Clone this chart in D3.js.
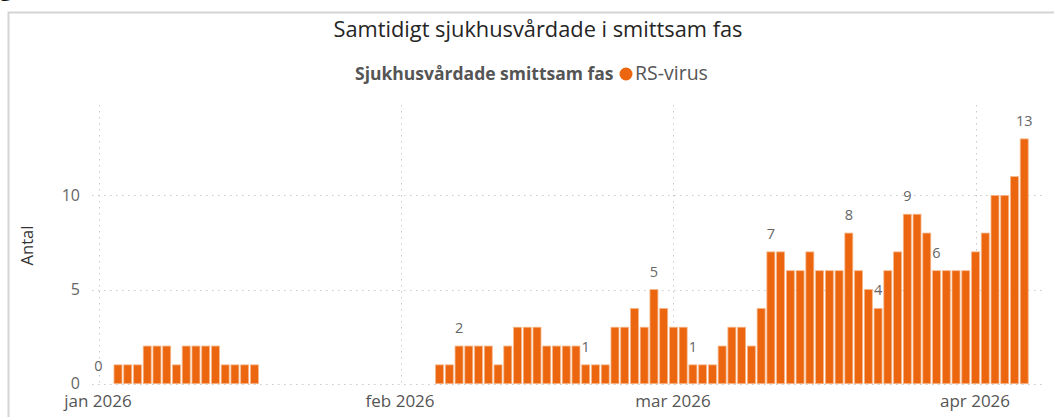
<!DOCTYPE html>
<html><head><meta charset="utf-8">
<script src="https://cdn.jsdelivr.net/npm/d3@7"></script>
<style>
body{margin:0;background:#fff;}
svg{display:block;font-family:"Open Sans",sans-serif;}
</style></head>
<body><svg id="c" width="1054" height="417"></svg>
<script>
const dates = [
"2026-01-01",
"2026-01-03","2026-01-04","2026-01-05","2026-01-06","2026-01-07","2026-01-08","2026-01-09","2026-01-10","2026-01-11","2026-01-12","2026-01-13","2026-01-14","2026-01-15","2026-01-16","2026-01-17",
"2026-02-05","2026-02-06","2026-02-07","2026-02-08","2026-02-09","2026-02-10","2026-02-11","2026-02-12","2026-02-13","2026-02-14","2026-02-15","2026-02-16","2026-02-17","2026-02-18","2026-02-19","2026-02-20","2026-02-21","2026-02-22","2026-02-23","2026-02-24","2026-02-25","2026-02-26","2026-02-27","2026-02-28",
"2026-03-01","2026-03-02","2026-03-03","2026-03-04","2026-03-05","2026-03-06","2026-03-07","2026-03-08","2026-03-09","2026-03-10","2026-03-11","2026-03-12","2026-03-13","2026-03-14","2026-03-15","2026-03-16","2026-03-17","2026-03-18","2026-03-19","2026-03-20","2026-03-21","2026-03-22","2026-03-23","2026-03-24","2026-03-25","2026-03-26","2026-03-27","2026-03-28","2026-03-29","2026-03-30","2026-03-31",
"2026-04-01","2026-04-02","2026-04-03","2026-04-04","2026-04-05","2026-04-06"
];
const values = [
0,
1,1,1,2,2,2,1,2,2,2,2,1,1,1,1,
1,1,2,2,2,2,1,2,3,3,3,2,2,2,2,1,1,1,3,3,4,3,5,4,
3,3,1,1,1,2,3,3,2,4,7,7,6,6,7,6,6,6,8,6,5,4,6,7,9,9,8,6,6,6,6,
7,8,10,10,11,13
];
const labeledDates = ["2026-01-01","2026-02-07","2026-02-20","2026-02-27","2026-03-03","2026-03-11","2026-03-19","2026-03-22","2026-03-25","2026-03-28","2026-04-06"];
const monthTicks = ["2026-01-01","2026-02-01","2026-03-01","2026-04-01"];
const monthLabels = ["jan 2026","feb 2026","mar 2026","apr 2026"];
const yTicks = [0,5,10];
const title = "Samtidigt sjukhusvårdade i smittsam fas";
const legendTitle = "Sjukhusvårdade smittsam fas";
const seriesName = "RS-virus";
const yTitle = "Antal";

const color = "#ec6610";
const parse = d3.utcParse("%Y-%m-%d");
const data = dates.map((d,i)=>({date:parse(d), key:d, value:values[i]}));

const svg = d3.select("#c");
// frame
svg.append("path").attr("d","M8.5,417 V12.5 H1054").attr("fill","none").attr("stroke","#d4d4d4").attr("stroke-width",2);
svg.append("text").attr("x",0).attr("y",-4).attr("font-size",22).attr("fill","#111").attr("font-weight","bold").text("g");

const x = d3.scaleUtc().domain([parse("2026-01-01"), parse("2026-04-01")]).range([98.5, 975.5]);
const y = d3.scaleLinear().domain([0, 14.8]).range([383.7, 105]);
const dayW = x(parse("2026-01-02")) - x(parse("2026-01-01"));
const bw = dayW * 0.82;

// grid
const grid = svg.append("g").attr("stroke","#c8c8c8").attr("stroke-width",1).attr("stroke-dasharray","1.5,4.5");
grid.selectAll("line.h").data(yTicks).join("line").attr("class","h")
  .attr("x1",92).attr("x2",1042).attr("y1",d=>Math.round(y(d))+0.5).attr("y2",d=>Math.round(y(d))+0.5);
grid.selectAll("line.v").data(monthTicks).join("line").attr("class","v")
  .attr("x1",d=>Math.round(x(parse(d)))+0.5).attr("x2",d=>Math.round(x(parse(d)))+0.5).attr("y1",105).attr("y2",384);

// axes
const xAxis = d3.axisBottom(x).tickValues(monthTicks.map(parse)).tickSize(0).tickPadding(0)
  .tickFormat((d,i)=>monthLabels[i]);
const gx = svg.append("g").attr("transform","translate(-1,407)").call(xAxis);
gx.select(".domain").remove();
gx.selectAll("text").attr("font-size",17).attr("fill","#555").attr("font-family","Open Sans").attr("dy","0").attr("y",0);

const yAxis = d3.axisLeft(y).tickValues(yTicks).tickSize(0).tickPadding(0);
const gy = svg.append("g").attr("transform","translate(80,0)").call(yAxis);
gy.select(".domain").remove();
gy.selectAll("text").attr("font-size",16).attr("fill","#666").attr("font-family","Open Sans").attr("dy","0.33em");

svg.append("text").attr("transform","translate(33,245.5) rotate(-90)").attr("text-anchor","middle")
  .attr("font-size",16.5).attr("fill","#333").text(yTitle);

// bars
svg.append("g").selectAll("rect").data(data.filter(d=>d.value>0)).join("rect")
  .attr("x",d=>x(d.date)-bw/2).attr("width",bw)
  .attr("y",d=>y(d.value)).attr("height",d=>y(0)-y(d.value))
  .attr("fill",color).attr("stroke","#f6b88c").attr("stroke-width",0.8);

// labels
svg.append("g").selectAll("text").data(data.filter(d=>labeledDates.includes(d.key))).join("text")
  .attr("x",d=>x(d.date)).attr("y",d=>y(d.value)-13).attr("text-anchor","middle")
  .attr("font-size",14.5).attr("fill","#666").text(d=>d.value);

// title & legend
svg.append("text").attr("x",538).attr("y",37).attr("text-anchor","middle").attr("font-size",21.8)
  .attr("fill","#252525").text(title);
svg.append("text").attr("x",355).attr("y",80).attr("font-size",17.5).attr("font-weight","bold")
  .attr("fill","#555").text(legendTitle);
svg.append("circle").attr("cx",626).attr("cy",74).attr("r",6.5).attr("fill",color);
svg.append("text").attr("x",635).attr("y",80).attr("font-size",19.5).attr("fill","#555").text(seriesName);
</script></body></html>
